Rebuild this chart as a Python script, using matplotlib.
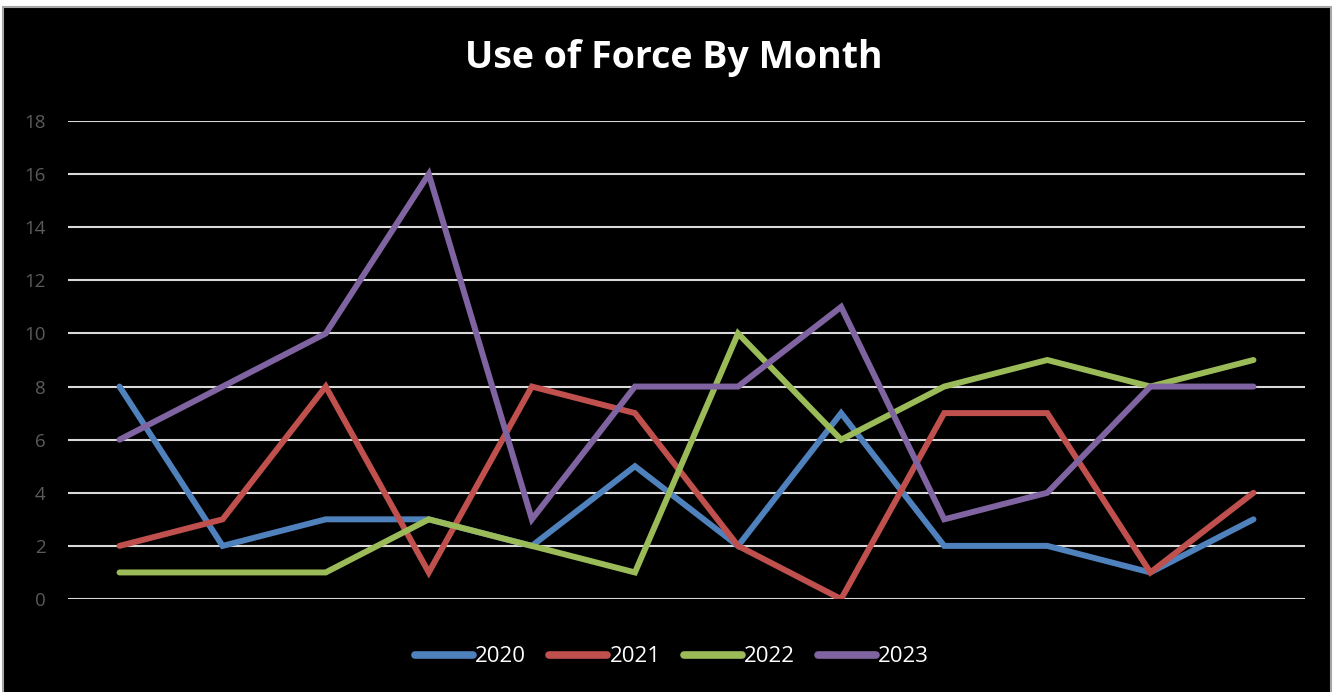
import matplotlib
matplotlib.use("Agg")
import matplotlib.pyplot as plt
from matplotlib.patches import Rectangle

months = ["Jan", "Feb", "Mar", "Apr", "May", "Jun",
          "Jul", "Aug", "Sep", "Oct", "Nov", "Dec"]
series_names = ["2020", "2021", "2022", "2023"]
y2020 = [8, 2, 3, 3, 2, 5, 2, 7, 2, 2, 1, 3]
y2021 = [2, 3, 8, 1, 8, 7, 2, 0, 7, 7, 1, 4]
y2022 = [1, 1, 1, 3, 2, 1, 10, 6, 8, 9, 8, 9]
y2023 = [6, 8, 10, 16, 3, 8, 8, 11, 3, 4, 8, 8]
y_ticks = [0, 2, 4, 6, 8, 10, 12, 14, 16, 18]

colors = ["#4F81BD", "#C0504D", "#9BBB59", "#8064A2"]

W, H = 1336, 692
fig = plt.figure(figsize=(W / 100, H / 100), dpi=100, facecolor="white")

# dark chart frame with a thin grey edge
fig.patches.append(Rectangle((3 / W, -0.02), (1331 - 3) / W, (H - 7) / H + 0.02,
                             transform=fig.transFigure, facecolor="black",
                             edgecolor="#A6A6A6", linewidth=1.5, zorder=-5))

ax = fig.add_axes([68 / W, (H - 599) / H, (1305 - 68) / W, (599 - 121) / H],
                  zorder=2)
ax.set_facecolor("none")

x = list(range(len(months)))
for name, vals, c in zip(series_names, [y2020, y2021, y2022, y2023], colors):
    ax.plot(x, vals, color=c, linewidth=4.3, solid_capstyle="round",
            solid_joinstyle="miter", label=name, zorder=3)

ax.set_xlim(-0.5, len(months) - 0.5)
ax.set_ylim(0, 18)
ax.set_yticks(y_ticks)
ax.set_xticks([])
ax.yaxis.grid(True, color="#D9D9D9", linewidth=1.5, zorder=1)
ax.set_axisbelow(True)
for s in ax.spines.values():
    s.set_visible(False)
ax.tick_params(axis="y", length=0, pad=16, colors="#5A5A5A", labelsize=13.5)
for lab in ax.get_yticklabels():
    lab.set_fontfamily("Open Sans")

fig.text(674 / W, 1 - 58 / H, "Use of Force By Month", ha="center", va="center",
         color="white", fontsize=27, fontweight="bold", family="Open Sans",
         zorder=3)

leg = fig.legend(loc="center", bbox_to_anchor=(672 / W, 1 - 657 / H), ncol=4,
                 frameon=False, handlelength=2.6, handletextpad=0.1,
                 columnspacing=1.05, prop={"family": "Open Sans", "size": 16})
leg.set_zorder(3)
for t in leg.get_texts():
    t.set_color("white")
for h in leg.get_lines():
    h.set_linewidth(5.5)
    h.set_solid_capstyle("round")

fig.savefig("out.png", dpi=100, facecolor="white")
